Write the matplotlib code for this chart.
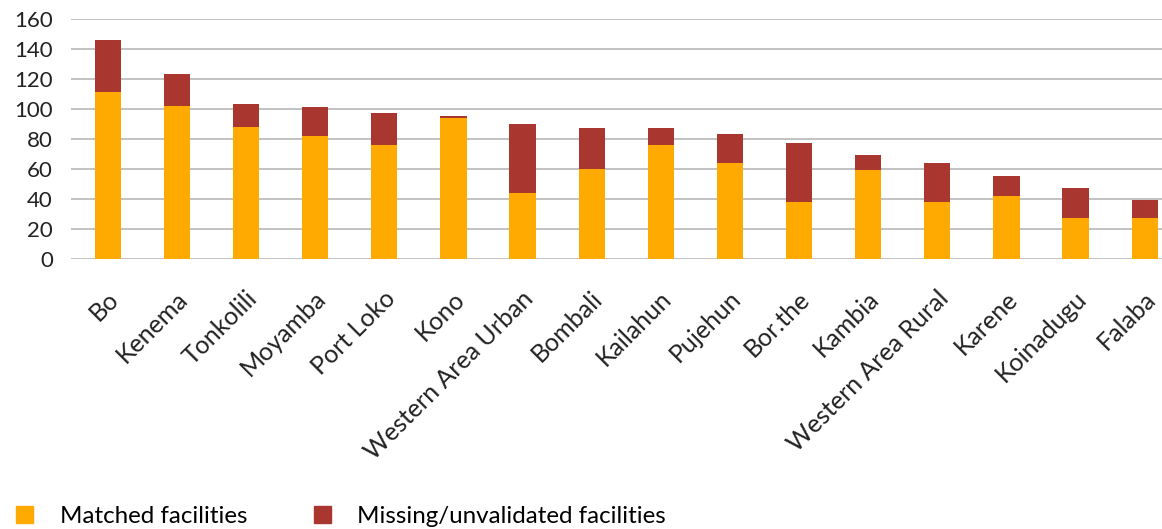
import matplotlib.pyplot as plt
import numpy as np
from matplotlib.patches import Patch
from matplotlib.transforms import ScaledTranslation

districts = ['Bo', 'Kenema', 'Tonkolili', 'Moyamba', 'Port Loko', 'Kono',
             'Western Area Urban', 'Bombali', 'Kailahun', 'Pujehun', 'Bor.the',
             'Kambia', 'Western Area Rural', 'Karene', 'Koinadugu', 'Falaba']
matched = [111, 102, 88, 82, 76, 94, 44, 60, 76, 64, 38, 59, 38, 42, 27, 27]
missing = [35, 21, 15, 19, 21, 1, 46, 27, 11, 19, 39, 10, 26, 13, 20, 12]
yticks = [0, 20, 40, 60, 80, 100, 120, 140, 160]

orange = '#FFAA00'
red = '#A9362F'

plt.rcParams['font.family'] = ['Lato', 'DejaVu Sans']

fig = plt.figure(figsize=(11.62, 5.29), dpi=100)
ax = fig.add_axes([0.061, 0.5104, 0.939, 0.4537])

x = np.arange(len(districts))
w = 0.38
ax.bar(x, matched, w, color=orange, zorder=3)
ax.bar(x, missing, w, bottom=matched, color=red, zorder=3)

ax.set_ylim(0, 160)
ax.set_xlim(-0.535, 15.25)
ax.set_yticks(yticks)
ax.set_yticklabels([str(v) for v in yticks], fontsize=16, color='#222222')
ax.yaxis.grid(True, color='#BDBDBD', linewidth=1.3, zorder=0)
ax.tick_params(axis='both', length=0)
ax.tick_params(axis='y', pad=13)
for s in ax.spines.values():
    s.set_visible(False)

ax.set_xticks(x)
ax.set_xticklabels(districts, rotation=45, ha='right', va='center',
                   rotation_mode='anchor', fontsize=18, color='#222222')
offset = ScaledTranslation(0.07, -0.31, fig.dpi_scale_trans)
for lab in ax.get_xticklabels():
    lab.set_transform(lab.get_transform() + offset)

handles = [Patch(color=orange), Patch(color=red)]
fig.legend(handles, ['Matched facilities', 'Missing/unvalidated facilities'],
           loc='lower left', bbox_to_anchor=(0.012, 0.0), ncol=2, frameon=False,
           fontsize=17.4, handlelength=0.7, handleheight=0.7, handletextpad=1.1,
           columnspacing=2.75, borderpad=0.1, borderaxespad=0)

fig.savefig('out.png', dpi=100)
